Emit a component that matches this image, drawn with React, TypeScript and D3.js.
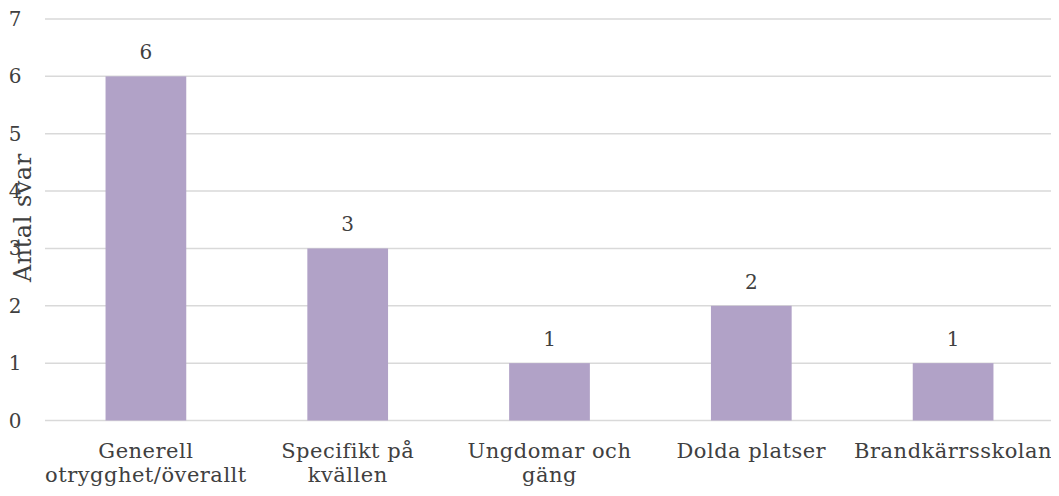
import { useEffect, useRef } from 'react';
import * as d3 from 'd3';

const categories = [
  ['Generell', 'otrygghet/överallt'],
  ['Specifikt på', 'kvällen'],
  ['Ungdomar och', 'gäng'],
  ['Dolda platser'],
  ['Brandkärrsskolan'],
];
const values = [6, 3, 1, 2, 1];
const yTicks = [0, 1, 2, 3, 4, 5, 6, 7];
const yTitle = 'Antal svar';

const width = 1059;
const height = 496;
const font = '"DejaVu Serif", serif';

export default function App() {
  const svgRef = useRef<SVGSVGElement>(null);

  useEffect(() => {
    if (!svgRef.current) return;
    const svg = d3.select(svgRef.current);
    svg.selectAll('*').remove();

    const margin = { top: 19, right: 5, bottom: 75, left: 45 };
    const innerWidth = width - margin.left - margin.right;
    const innerHeight = 401.5;

    const keys = categories.map(c => c.join(' '));
    const x = d3.scaleBand().domain(keys).range([0, innerWidth]).paddingInner(0.6).paddingOuter(0.3);
    const y = d3.scaleLinear().domain([0, 7]).range([innerHeight, 0]);

    const g = svg.append('g').attr('transform', `translate(${margin.left},${margin.top})`);

    // gridlines
    g.selectAll('.grid')
      .data(yTicks)
      .enter().append('line')
      .attr('x1', 0)
      .attr('x2', innerWidth)
      .attr('y1', d => y(d))
      .attr('y2', d => y(d))
      .attr('stroke', '#d9d9d9')
      .attr('stroke-width', 1.5);

    // y tick labels
    g.selectAll('.ytick')
      .data(yTicks)
      .enter().append('text')
      .attr('x', -30)
      .attr('y', d => y(d))
      .attr('dy', '0.35em')
      .attr('text-anchor', 'middle')
      .attr('font-family', font)
      .attr('font-size', 20)
      .attr('fill', '#404040')
      .text(d => d);

    // bars
    g.selectAll('.bar')
      .data(values)
      .enter().append('rect')
      .attr('x', (d, i) => x(keys[i]) || 0)
      .attr('y', d => y(d))
      .attr('width', x.bandwidth())
      .attr('height', d => innerHeight - y(d))
      .attr('fill', '#b1a2c7');

    // value labels
    g.selectAll('.val')
      .data(values)
      .enter().append('text')
      .attr('x', (d, i) => (x(keys[i]) || 0) + x.bandwidth() / 2)
      .attr('y', d => y(d) - 17)
      .attr('text-anchor', 'middle')
      .attr('font-family', font)
      .attr('font-size', 20)
      .attr('fill', '#404040')
      .text(d => d);

    // category labels
    categories.forEach((lines, i) => {
      const cx = (x(keys[i]) || 0) + x.bandwidth() / 2;
      const t = g.append('text')
        .attr('x', cx)
        .attr('y', innerHeight + 37)
        .attr('text-anchor', 'middle')
        .attr('font-family', font)
        .attr('font-size', 21)
        .attr('letter-spacing', 0.5)
        .attr('fill', '#404040');
      lines.forEach((line, j) => {
        t.append('tspan')
          .attr('x', cx)
          .attr('dy', j === 0 ? 0 : 24)
          .text(line);
      });
    });

    // y axis title
    svg.append('text')
      .attr('transform', `translate(31,${margin.top + innerHeight / 2 - 2}) rotate(-90)`)
      .attr('text-anchor', 'middle')
      .attr('font-family', font)
      .attr('font-size', 24)
      .attr('letter-spacing', 0.5)
      .attr('fill', '#404040')
      .text(yTitle);
  }, []);

  return <svg ref={svgRef} width={width} height={height} style={{ display: 'block', margin: -8 }} />;
}
